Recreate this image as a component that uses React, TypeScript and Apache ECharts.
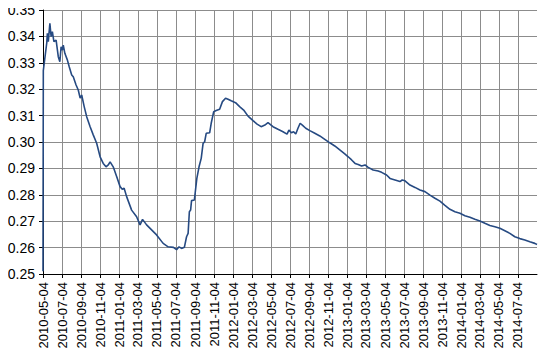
import React, { useEffect, useRef } from "react";
import * as echarts from "echarts";

// Daily category axis: start date and number of days shown
const START_DATE = "2010-05-04";
const DAY_COUNT = 1584;

const dayOffsets = [
  0, 1, 12, 14, 17, 22, 26, 30, 35, 42, 49, 54, 58, 62, 65, 70, 78, 84, 92, 97,
  106, 113, 119, 124, 132, 140, 151, 161, 172, 183, 193, 202, 209, 215, 225, 236, 247, 254, 260, 268,
  284, 300, 311, 319, 332, 348, 364, 385, 401, 418, 428, 436, 444, 453, 460, 465, 469, 473, 476, 485,
  493, 500, 507, 513, 518, 523, 534, 539, 547, 555, 566, 575, 585, 593, 603, 617, 630, 643, 657, 673,
  686, 699, 711, 721, 737, 753, 769, 782, 788, 796, 803, 810, 817, 824, 831, 842, 855, 871, 887, 903,
  919, 935, 951, 967, 978, 989, 1000, 1010, 1021, 1032, 1042, 1058, 1074, 1085, 1101, 1112, 1128, 1144, 1151, 1160,
  1176, 1192, 1208, 1224, 1240, 1256, 1272, 1288, 1304, 1320, 1336, 1352, 1368, 1384, 1400, 1416, 1432, 1448, 1464, 1480,
  1496, 1512, 1528, 1544, 1560, 1576, 1583,
];

const values = [
  0.251, 0.327, 0.3375, 0.3412, 0.338, 0.345, 0.3399, 0.3418, 0.338, 0.3386, 0.3323, 0.3304, 0.3361, 0.3348, 0.3367, 0.3336, 0.3311, 0.3285, 0.3254, 0.3247,
  0.3216, 0.3197, 0.3166, 0.3178, 0.3134, 0.3096, 0.3058, 0.3027, 0.2995, 0.2944, 0.2919, 0.2906, 0.2913, 0.2925, 0.2906, 0.2869, 0.2831, 0.2821, 0.2825, 0.2793,
  0.2742, 0.2717, 0.2686, 0.2707, 0.2686, 0.2667, 0.2648, 0.2616, 0.2603, 0.2601, 0.2592, 0.2603, 0.2597, 0.2601, 0.2641, 0.2654, 0.2736, 0.2742, 0.2778, 0.278,
  0.2862, 0.2906, 0.2938, 0.2995, 0.3001, 0.3033, 0.3035, 0.3071, 0.3115, 0.3119, 0.3124, 0.3153, 0.3166, 0.3162, 0.3156, 0.3149, 0.3134, 0.3121, 0.3098, 0.3081,
  0.3068, 0.3058, 0.3064, 0.3073, 0.3058, 0.3048, 0.3039, 0.303, 0.3045, 0.3035, 0.3039, 0.303, 0.3052, 0.3071, 0.3064, 0.3052, 0.3043, 0.3033, 0.3023, 0.301,
  0.2997, 0.2985, 0.297, 0.2955, 0.2944, 0.2932, 0.2919, 0.2915, 0.2909, 0.2913, 0.2904, 0.2894, 0.289, 0.2885, 0.2875, 0.2862, 0.2856, 0.285, 0.2856, 0.2853,
  0.2837, 0.2828, 0.2818, 0.2812, 0.2799, 0.2787, 0.2776, 0.276, 0.2745, 0.2736, 0.273, 0.2721, 0.2715, 0.2707, 0.2701, 0.2692, 0.2684, 0.2679, 0.2673, 0.2664,
  0.2654, 0.2641, 0.2634, 0.2629, 0.2622, 0.2616, 0.2612,
];

const Y_MIN = 0.25;
const Y_MAX = 0.35;
const Y_STEP = 0.01;

function buildDates(): string[] {
  const out: string[] = [];
  const base = new Date(START_DATE + "T00:00:00Z").getTime();
  for (let i = 0; i < DAY_COUNT; i++) {
    out.push(new Date(base + i * 86400000).toISOString().slice(0, 10));
  }
  return out;
}

const dates = buildDates();

function isLabelDay(value: string): boolean {
  const m = parseInt(value.slice(5, 7), 10);
  return value.slice(8, 10) === "04" && m % 2 === 1;
}

export default function App() {
  const ref = useRef<HTMLDivElement>(null);

  useEffect(() => {
    if (!ref.current) return;
    const chart = echarts.init(ref.current, null, { renderer: "svg" });
    const pick = (i: number) => isLabelDay(dates[i]);
    chart.setOption({
      animation: false,
      grid: { left: 43, right: 12, top: 10, bottom: 85, containLabel: false },
      xAxis: {
        type: "category",
        data: dates,
        boundaryGap: false,
        axisLine: { show: true, lineStyle: { color: "#000", width: 1 } },
        axisTick: {
          show: true,
          inside: false,
          length: 4,
          interval: (i: number) => pick(i),
          lineStyle: { color: "#000" },
        },
        axisLabel: {
          interval: (i: number) => pick(i),
          rotate: 90,
          margin: 8,
          color: "#000",
          fontFamily: "Liberation Sans, Arial, sans-serif",
          fontSize: 13,
        },
        splitLine: {
          show: true,
          interval: (i: number) => pick(i),
          lineStyle: { color: "#8c8c8c", width: 1 },
        },
      },
      yAxis: {
        type: "value",
        min: Y_MIN,
        max: Y_MAX,
        interval: Y_STEP,
        axisLine: { show: true, lineStyle: { color: "#000", width: 1 } },
        axisTick: { show: true, inside: false, length: 4, lineStyle: { color: "#000" } },
        axisLabel: {
          formatter: (v: number) => v.toFixed(2),
          color: "#000",
          margin: 8,
          fontFamily: "Liberation Sans, Arial, sans-serif",
          fontSize: 14,
        },
        splitLine: { show: true, lineStyle: { color: "#8c8c8c", width: 1 } },
      },
      series: [
        {
          type: "line",
          data: dayOffsets.map((d, i) => [d, values[i]]),
          showSymbol: false,
          symbol: "none",
          lineStyle: { color: "#264a82", width: 1.6 },
          z: 3,
        },
      ],
    });
    return () => chart.dispose();
  }, []);

  return <div ref={ref} style={{ width: 549, height: 359, margin: -8 }} />;
}
